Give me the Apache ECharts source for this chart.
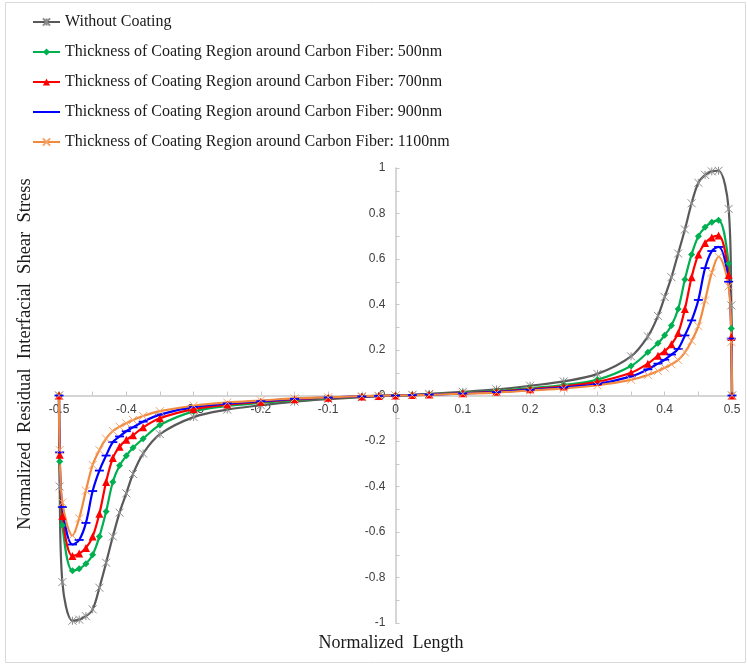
<!DOCTYPE html>
<html>
<head>
<meta charset="utf-8">
<script src="https://cdn.jsdelivr.net/npm/echarts@6/dist/echarts.min.js"></script>
<style>
  html, body { margin: 0; padding: 0; background: #fff; }
  #chart { width: 747px; height: 664px; }
</style>
</head>
<body>
<div id="chart"></div>
<script>
// x positions (normalized length)
var xs = [-0.5, -0.499, -0.495, -0.48, -0.47, -0.46, -0.45, -0.44, -0.43, -0.42, -0.41, -0.40, -0.39, -0.375, -0.35, -0.3, -0.25, -0.2, -0.15, -0.1, -0.05, -0.025,
  0, 0.025, 0.05, 0.1, 0.15, 0.2, 0.25, 0.3, 0.35, 0.375, 0.39, 0.40, 0.41, 0.42, 0.43, 0.44, 0.45, 0.46, 0.47, 0.48, 0.495, 0.499, 0.5];

var noCoat = [0, -0.4, -0.82, -0.99, -0.985, -0.97, -0.94, -0.845, -0.735, -0.62, -0.515, -0.43, -0.345, -0.255, -0.17, -0.095, -0.062, -0.043, -0.027, -0.016, -0.007, -0.003,
  0, 0.003, 0.007, 0.016, 0.027, 0.043, 0.062, 0.095, 0.172, 0.26, 0.35, 0.433, 0.52, 0.624, 0.73, 0.845, 0.935, 0.97, 0.985, 0.988, 0.82, 0.396, 0];
var coat500 = [0, -0.29, -0.57, -0.77, -0.762, -0.74, -0.70, -0.62, -0.51, -0.38, -0.308, -0.265, -0.23, -0.19, -0.13, -0.07, -0.046, -0.032, -0.02, -0.012, -0.005, -0.002,
  0, 0.002, 0.005, 0.012, 0.02, 0.032, 0.046, 0.07, 0.13, 0.19, 0.23, 0.265, 0.308, 0.38, 0.51, 0.62, 0.70, 0.74, 0.762, 0.77, 0.58, 0.294, 0];
var coat700 = [0, -0.26, -0.53, -0.705, -0.695, -0.67, -0.62, -0.52, -0.38, -0.275, -0.225, -0.195, -0.175, -0.14, -0.1, -0.06, -0.04, -0.028, -0.017, -0.01, -0.004, -0.002,
  0, 0.002, 0.004, 0.01, 0.017, 0.028, 0.04, 0.06, 0.1, 0.14, 0.175, 0.195, 0.225, 0.275, 0.38, 0.52, 0.62, 0.67, 0.695, 0.703, 0.53, 0.257, 0];
var coat900 = [0, -0.25, -0.49, -0.655, -0.635, -0.56, -0.42, -0.33, -0.264, -0.205, -0.18, -0.157, -0.14, -0.115, -0.084, -0.05, -0.035, -0.025, -0.015, -0.009, -0.004, -0.002,
  0, 0.002, 0.004, 0.009, 0.015, 0.025, 0.035, 0.05, 0.084, 0.115, 0.14, 0.157, 0.18, 0.205, 0.264, 0.33, 0.42, 0.56, 0.635, 0.653, 0.5, 0.25, 0];
var coat1100 = [0, -0.24, -0.47, -0.615, -0.54, -0.418, -0.305, -0.24, -0.19, -0.156, -0.137, -0.122, -0.108, -0.09, -0.069, -0.045, -0.031, -0.022, -0.013, -0.008, -0.003, -0.001,
  0, 0.001, 0.003, 0.008, 0.013, 0.022, 0.031, 0.045, 0.069, 0.09, 0.108, 0.122, 0.137, 0.156, 0.19, 0.24, 0.305, 0.418, 0.54, 0.61, 0.48, 0.235, 0];

var names = ['Without Coating',
  'Thickness of Coating Region around Carbon Fiber: 500nm',
  'Thickness of Coating Region around Carbon Fiber: 700nm',
  'Thickness of Coating Region around Carbon Fiber: 900nm',
  'Thickness of Coating Region around Carbon Fiber: 1100nm'];

function pairs(ys) {
  return xs.map(function (x, i) { return [x, ys[i]]; });
}

var serif = '"Liberation Serif", "Times New Roman", serif';
var sans = '"Liberation Sans", Arial, sans-serif';

function mkSeries(name, ys, color, symbol, size, itemStyle) {
  return {
    name: name,
    type: 'line',
    data: pairs(ys),
    smooth: 0.35,
    symbol: symbol,
    symbolSize: size,
    showSymbol: true,
    lineStyle: { color: color, width: 2.2 },
    itemStyle: itemStyle,
    emphasis: { disabled: true }
  };
}

// grid is 673 x 455, zero lines sit in the middle
var gridL = 59, gridT = 168, gridW = 673, gridH = 455;

var chart = echarts.init(document.getElementById('chart'));
var option = {
  animation: false,
  backgroundColor: '#fff',
  grid: { left: gridL, top: gridT, width: gridW, height: gridH, containLabel: false },
  legend: {
    orient: 'vertical',
    left: 32,
    top: 14,
    padding: 0,
    itemWidth: 27,
    itemHeight: 9,
    itemGap: 14,
    textStyle: { fontFamily: serif, fontSize: 16, color: '#1a1a1a' },
    data: names
  },
  xAxis: {
    type: 'value',
    min: -0.5,
    max: 0.5,
    interval: 0.1,
    offset: -gridH / 2,
    axisLine: { onZero: false, lineStyle: { color: '#c8c8c8', width: 1.5 } },
    axisTick: { inside: true, length: 4, lineStyle: { color: '#c8c8c8' } },
    minorTick: { show: true, splitNumber: 2, length: 4, lineStyle: { color: '#c8c8c8' } },
    splitLine: { show: false },
    axisLabel: {
      margin: 8,
      fontFamily: sans,
      fontSize: 12,
      color: '#404040',
      formatter: function (v) { return String(Math.round(v * 10) / 10); }
    }
  },
  yAxis: {
    type: 'value',
    min: -1,
    max: 1,
    interval: 0.2,
    offset: -gridW / 2,
    axisLine: { onZero: false, lineStyle: { color: '#c8c8c8', width: 1.5 } },
    axisTick: { inside: true, length: 4, lineStyle: { color: '#c8c8c8' } },
    minorTick: { show: true, splitNumber: 2, length: 4, lineStyle: { color: '#c8c8c8' } },
    splitLine: { show: false },
    axisLabel: {
      margin: 10,
      fontFamily: sans,
      fontSize: 12,
      color: '#404040',
      formatter: function (v) { return String(Math.round(v * 10) / 10); }
    }
  },
  graphic: [
    {
      type: 'rect', silent: true, z: -10,
      shape: { x: 5.5, y: 2.5, width: 740, height: 660 },
      style: { fill: 'none', stroke: '#d9d9d9', lineWidth: 1 }
    },
    {
      type: 'text', silent: true,
      x: 25, y: 354, rotation: Math.PI / 2,
      style: {
        text: 'Normalized  Residual  Interfacial  Shear  Stress',
        fontFamily: serif, fontSize: 18.5, fill: '#1a1a1a',
        align: 'center', verticalAlign: 'middle'
      }
    },
    {
      type: 'text', silent: true,
      x: 391, y: 643,
      style: {
        text: 'Normalized  Length',
        fontFamily: serif, fontSize: 18, fill: '#1a1a1a',
        align: 'center', verticalAlign: 'middle'
      }
    }
  ],
  series: [
    mkSeries(names[0], noCoat, '#595959', 'path://M0,0L10,10M10,0L0,10M5,0L5,10', 8,
      { color: 'rgba(0,0,0,0)', borderColor: '#8c8c8c', borderWidth: 1 }),
    mkSeries(names[1], coat500, '#00b050', 'diamond', 7,
      { color: '#00b050', borderWidth: 0 }),
    mkSeries(names[2], coat700, '#ff0000', 'triangle', 8,
      { color: '#ff0000', borderWidth: 0 }),
    // thin horizontal dash; the corner moves keep the symbol box square
    mkSeries(names[3], coat900, '#0000ff', 'path://M0,0M10,10M0,4L10,4L10,6L0,6Z', 9,
      { color: '#0000ff', borderWidth: 0 }),
    mkSeries(names[4], coat1100, '#f28a3e', 'path://M0,0L10,10M10,0L0,10', 8,
      { color: 'rgba(0,0,0,0)', borderColor: '#f5a36a', borderWidth: 1 })
  ]
};
chart.setOption(option);
window.addEventListener('resize', function () {
  chart.resize();
});
</script>
</body>
</html>
